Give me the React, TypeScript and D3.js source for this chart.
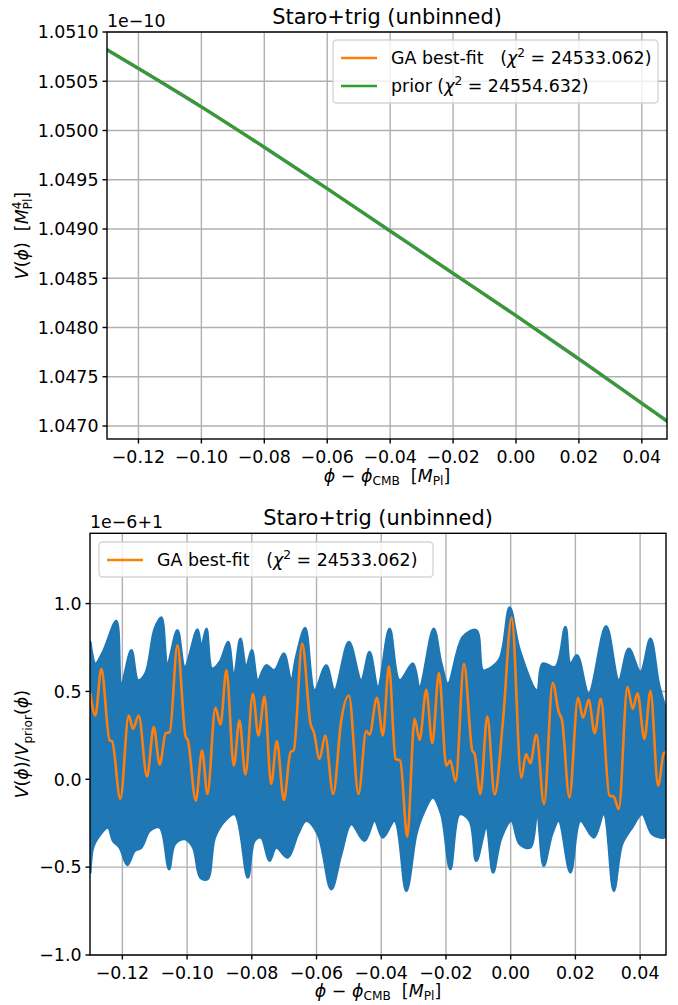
import React from "react";
import * as d3 from "d3";

// ---- data -------------------------------------------------------------

// shared x ticks (phi - phi_CMB, in M_Pl)
const phiTicks = [-0.12, -0.1, -0.08, -0.06, -0.04, -0.02, 0.0, 0.02, 0.04];

// top panel: potential V(phi) in units of 1e-10 M_Pl^4
const potentialTicks = [1.047, 1.0475, 1.048, 1.0485, 1.049, 1.0495, 1.05, 1.0505, 1.051];
const priorPhi = [-0.13, -0.12, -0.1, -0.08, -0.06, -0.04, -0.02, 0.0, 0.02, 0.04, 0.048];
const priorV = [1.05082, 1.05063, 1.05024, 1.04983, 1.04941, 1.04898, 1.04855, 1.04812, 1.04768, 1.04723, 1.04705];

// bottom panel: ratio V/V_prior, shown as (ratio - 1) in units of 1e-6
const ratioTicks = [-1.0, -0.5, 0.0, 0.5, 1.0];

// GA best-fit ratio curve (turning points)
const gaPhi = [
  -0.1299, -0.12835, -0.1265, -0.12392, -0.1232, -0.12062, -0.11804, -0.1167, -0.11495, -0.11237,
  -0.11031, -0.10845, -0.1066, -0.10536, -0.10299, -0.10052, -0.09969, -0.09732, -0.09536, -0.09371,
  -0.09124, -0.08969, -0.08784, -0.08556, -0.08381, -0.08196, -0.07969, -0.07794, -0.07608, -0.07402,
  -0.07227, -0.0701, -0.06804, -0.06701, -0.06443, -0.06186, -0.06082, -0.05907, -0.05732, -0.05485,
  -0.05237, -0.05, -0.04701, -0.04464, -0.04361, -0.04134, -0.03949, -0.03763, -0.03557, -0.03412,
  -0.03196, -0.02969, -0.02814, -0.02608, -0.02423, -0.02216, -0.0199, -0.01866, -0.01701, -0.01443,
  -0.01186, -0.01113, -0.00938, -0.00722, -0.00495, -0.00237, 0.00031, 0.0033, 0.00474, 0.00608,
  0.00794, 0.01031, 0.01299, 0.01485, 0.01588, 0.01814, 0.02082, 0.02237, 0.02412, 0.02598,
  0.02784, 0.03052, 0.03186, 0.0334, 0.03608, 0.03773, 0.03918, 0.04134, 0.0432, 0.04557,
  0.04732, 0.04804,
];
const gaRatio = [
  0.487, 0.363, 0.629, 0.221, 0.217, -0.112, 0.363, 0.287, 0.363, 0.015,
  0.297, 0.084, 0.262, 0.268, 0.762, 0.249, 0.217, -0.122, 0.163, -0.084,
  0.407, 0.312, 0.62, 0.078, 0.335, 0.027, 0.487, 0.249, 0.471, -0.027,
  0.217, -0.118, 0.154, 0.167, 0.772, 0.316, 0.268, 0.116, 0.249, -0.084,
  0.335, 0.477, -0.084, 0.274, 0.255, 0.464, 0.249, 0.643, 0.116, 0.106,
  -0.327, 0.344, 0.224, 0.51, 0.205, 0.605, 0.078, 0.106, -0.011, 0.658,
  0.163, 0.144, -0.084, 0.357, -0.087, 0.335, 0.92, 0.008, 0.144, 0.091,
  0.255, -0.141, 0.548, 0.382, 0.335, -0.103, 0.464, 0.35, 0.452, 0.262,
  0.458, -0.093, -0.099, -0.169, 0.525, 0.401, 0.49, 0.23, 0.502, -0.036,
  0.148, 0.154,
];

// spread of the sampled ratio curves: upper edge
const sampleTopPhi = [
  -0.1299, -0.12835, -0.12598, -0.12186, -0.12031, -0.11722, -0.11515, -0.11289, -0.11, -0.10794,
  -0.10608, -0.10299, -0.10072, -0.0968, -0.09557, -0.09402, -0.09227, -0.0899, -0.08732, -0.08556,
  -0.08351, -0.08175, -0.08, -0.07814, -0.07557, -0.07299, -0.0701, -0.06784, -0.06629, -0.06351,
  -0.06062, -0.05701, -0.05443, -0.05, -0.04619, -0.04361, -0.04103, -0.03742, -0.03433, -0.03021,
  -0.02814, -0.02381, -0.02144, -0.01938, -0.01474, -0.01062, -0.00856, -0.0067, -0.0034, -0.00031,
  0.00278, 0.00814, 0.0099, 0.01381, 0.01691, 0.01845, 0.02052, 0.02412, 0.02948, 0.0334,
  0.03649, 0.0401, 0.0432, 0.04577, 0.04804,
];
const sampleTop = [
  0.781, 0.658, 0.724, 0.901, 0.544, 0.734, 0.563, 0.601, 0.857, 0.92,
  0.658, 0.848, 0.639, 0.852, 0.753, 0.857, 0.629, 0.667, 0.781, 0.582,
  0.8, 0.639, 0.734, 0.563, 0.648, 0.62, 0.715, 0.563, 0.696, 0.861,
  0.506, 0.648, 0.506, 0.781, 0.563, 0.724, 0.525, 0.857, 0.563, 0.658,
  0.525, 0.857, 0.658, 0.544, 0.81, 0.848, 0.62, 0.629, 0.686, 0.977,
  0.734, 0.506, 0.658, 0.639, 0.867, 0.658, 0.705, 0.487, 0.871, 0.563,
  0.743, 0.61, 0.8, 0.544, 0.392,
];

// spread of the sampled ratio curves: lower edge
const sampleBottomPhi = [
  -0.1299, -0.12907, -0.12753, -0.12443, -0.12289, -0.12082, -0.11845, -0.11619, -0.11412, -0.11155,
  -0.10845, -0.10557, -0.10381, -0.10072, -0.09814, -0.09588, -0.09371, -0.09144, -0.08835, -0.08526,
  -0.08124, -0.07918, -0.07711, -0.07454, -0.07247, -0.06887, -0.06577, -0.0632, -0.05959, -0.05546,
  -0.05237, -0.04928, -0.04515, -0.04206, -0.03949, -0.03588, -0.03227, -0.02918, -0.02711, -0.02402,
  -0.02144, -0.01866, -0.01577, -0.01268, -0.01062, -0.00753, -0.00546, -0.00289, 0.00021, 0.00278,
  0.00608, 0.00814, 0.01021, 0.01278, 0.01485, 0.01845, 0.02155, 0.02567, 0.02876, 0.03186,
  0.03443, 0.03753, 0.04062, 0.04371, 0.04732, 0.04804,
];
const sampleBottom = [
  -0.53, -0.388, -0.331, -0.274, -0.35, -0.388, -0.487, -0.407, -0.388, -0.293,
  -0.274, -0.511, -0.369, -0.34, -0.388, -0.559, -0.568, -0.331, -0.236, -0.198,
  -0.559, -0.35, -0.331, -0.464, -0.388, -0.445, -0.312, -0.236, -0.312, -0.625,
  -0.426, -0.255, -0.35, -0.236, -0.331, -0.236, -0.635, -0.312, -0.198, -0.103,
  -0.198, -0.511, -0.198, -0.236, -0.464, -0.274, -0.53, -0.331, -0.236, -0.369,
  -0.388, -0.198, -0.492, -0.312, -0.236, -0.53, -0.236, -0.331, -0.198, -0.635,
  -0.369, -0.274, -0.198, -0.312, -0.331, -0.312,
];

// ---- style ------------------------------------------------------------

const FONT = "'DejaVu Sans', sans-serif";
const FS = 17.4;
const TITLE_FS = 20.9;
const BLUE = "#1f77b4";
const ORANGE = "#ff7f0e";
const GREEN = "#2ca02c";
const GRID = "#b0b0b0";
const LW = 2.6;

const fmtPhi = d3.format(".2f");
const fmtPot = d3.format(".4f");
const fmtRatio = d3.format(".1f");

type Box = { left: number; right: number; top: number; bottom: number };

const topBox: Box = { left: 107, right: 667, top: 32, bottom: 439 };
const botBox: Box = { left: 90, right: 666, top: 533.3, bottom: 955 };

const xTop = d3.scaleLinear().domain([-0.13, 0.048]).range([topBox.left, topBox.right]);
const yTop = d3.scaleLinear().domain([1.046868, 1.051]).range([topBox.bottom, topBox.top]);
const xBot = d3.scaleLinear().domain([-0.13, 0.048]).range([botBox.left, botBox.right]);
const yBot = d3.scaleLinear().domain([-1.0, 1.4]).range([botBox.bottom, botBox.top]);

function Grid({ box, x, y, xt, yt }: { box: Box; x: any; y: any; xt: number[]; yt: number[] }) {
  return (
    <g>
      {xt.map((t) => (
        <line key={"gx" + t} x1={x(t)} x2={x(t)} y1={box.top} y2={box.bottom} stroke={GRID} strokeWidth={1.4} />
      ))}
      {yt.map((t) => (
        <line key={"gy" + t} x1={box.left} x2={box.right} y1={y(t)} y2={y(t)} stroke={GRID} strokeWidth={1.4} />
      ))}
    </g>
  );
}

function Axes({
  box, x, y, xt, yt, yfmt,
}: { box: Box; x: any; y: any; xt: number[]; yt: number[]; yfmt: (v: number) => string }) {
  return (
    <g fontFamily={FONT} fontSize={FS} fill="#000">
      <rect x={box.left} y={box.top} width={box.right - box.left} height={box.bottom - box.top}
        fill="none" stroke="#000" strokeWidth={1.4} />
      {xt.map((t) => (
        <g key={"tx" + t}>
          <line x1={x(t)} x2={x(t)} y1={box.bottom} y2={box.bottom + 4.5} stroke="#000" strokeWidth={1.4} />
          <text x={x(t)} y={box.bottom + 23.5} textAnchor="middle">{fmtPhi(t)}</text>
        </g>
      ))}
      {yt.map((t) => (
        <g key={"ty" + t}>
          <line x1={box.left - 4.5} x2={box.left} y1={y(t)} y2={y(t)} stroke="#000" strokeWidth={1.4} />
          <text x={box.left - 8.5} y={y(t) + 6.3} textAnchor="end">{yfmt(t)}</text>
        </g>
      ))}
    </g>
  );
}

function PhiLabel({ cx, y }: { cx: number; y: number }) {
  return (
    <text x={cx} y={y} textAnchor="middle" fontFamily={FONT} fontSize={FS} style={{ whiteSpace: "pre" }}>
      <tspan fontStyle="italic">ϕ</tspan>
      <tspan> − </tspan>
      <tspan fontStyle="italic">ϕ</tspan>
      <tspan fontSize={12.2} dy={3}>CMB</tspan>
      <tspan dy={-3}>{"  ["}</tspan>
      <tspan fontStyle="italic">M</tspan>
      <tspan fontSize={12.2} dy={3}>Pl</tspan>
      <tspan dy={-3}>]</tspan>
    </text>
  );
}

function Legend({
  x, y, w, h, rows,
}: { x: number; y: number; w: number; h: number; rows: { color: string; label: string; chi: string }[] }) {
  return (
    <g fontFamily={FONT} fontSize={FS}>
      <rect x={x} y={y} width={w} height={h} rx={3.5} fill="#fff" fillOpacity={0.8}
        stroke="#cccccc" strokeOpacity={0.8} strokeWidth={1.4} />
      {rows.map((r, i) => {
        const cy = y + 18 + i * 28;
        return (
          <g key={r.label}>
            <line x1={x + 8} x2={x + 44} y1={cy} y2={cy} stroke={r.color} strokeWidth={LW} />
            <text x={x + 58} y={cy + 6.3} style={{ whiteSpace: "pre" }}>
              <tspan>{r.label + "("}</tspan>
              <tspan fontStyle="italic">χ</tspan>
              <tspan fontSize={12.2} dy={-7}>2</tspan>
              <tspan dy={7}>{" = " + r.chi + ")"}</tspan>
            </text>
          </g>
        );
      })}
    </g>
  );
}

export default function App() {
  // top panel lines
  const potLine = d3
    .line<number>()
    .x((_, i) => xTop(priorPhi[i]))
    .y((v) => yTop(v))
    .curve(d3.curveMonotoneX);
  const potD = potLine(priorV) || "";

  // bottom panel
  const ratioLine = d3
    .line<number>()
    .x((_, i) => xBot(gaPhi[i]))
    .y((v) => yBot(v))
    .curve(d3.curveMonotoneX);
  const gaD = ratioLine(gaRatio) || "";

  const edge = d3
    .line<[number, number]>()
    .x((p) => xBot(p[0]))
    .y((p) => yBot(p[1]))
    .curve(d3.curveCatmullRom.alpha(0.5));
  const upper: [number, number][] = sampleTopPhi.map((p, i) => [p, sampleTop[i]]);
  const lower: [number, number][] = sampleBottomPhi.map((p, i) => [p, sampleBottom[i]]).reverse() as [number, number][];
  const bandD = (edge(upper) || "") + (edge(lower) || "").replace(/^M/, "L") + "Z";

  return (
    <svg width={678} height={1005} viewBox="0 0 678 1005"
      style={{ position: "absolute", left: 0, top: 0, background: "#fff" }}>
      <defs>
        <clipPath id="clipTop">
          <rect x={topBox.left} y={topBox.top} width={topBox.right - topBox.left} height={topBox.bottom - topBox.top} />
        </clipPath>
        <clipPath id="clipBot">
          <rect x={botBox.left} y={botBox.top} width={botBox.right - botBox.left} height={botBox.bottom - botBox.top} />
        </clipPath>
      </defs>
      <rect width={678} height={1005} fill="#fff" />

      {/* ---------- top panel: potential ---------- */}
      <Grid box={topBox} x={xTop} y={yTop} xt={phiTicks} yt={potentialTicks} />
      <g clipPath="url(#clipTop)" fill="none" strokeLinecap="round">
        <path d={potD} stroke={BLUE} strokeWidth={LW + 0.8} />
        <path d={potD} stroke={ORANGE} strokeWidth={LW} />
        <path d={potD} stroke={GREEN} strokeWidth={LW} />
      </g>
      <Axes box={topBox} x={xTop} y={yTop} xt={phiTicks} yt={potentialTicks} yfmt={fmtPot} />
      <text x={topBox.left} y={27} fontFamily={FONT} fontSize={FS}>1e−10</text>
      <text x={(topBox.left + topBox.right) / 2} y={24} textAnchor="middle" fontFamily={FONT} fontSize={TITLE_FS}>
        Staro+trig (unbinned)
      </text>
      <PhiLabel cx={(topBox.left + topBox.right) / 2} y={482} />
      <text transform={`translate(28, ${(topBox.top + topBox.bottom) / 2}) rotate(-90)`} textAnchor="middle"
        fontFamily={FONT} fontSize={FS} style={{ whiteSpace: "pre" }}>
        <tspan fontStyle="italic">V</tspan>
        <tspan>(</tspan>
        <tspan fontStyle="italic">ϕ</tspan>
        <tspan>{")  ["}</tspan>
        <tspan fontStyle="italic">M</tspan>
        <tspan fontSize={12.2} dy={-7}>4</tspan>
        <tspan fontSize={12.2} dx={-7.8} dy={11}>Pl</tspan>
        <tspan dy={-4}>]</tspan>
      </text>
      <Legend x={333} y={40} w={325} h={63} rows={[
        { color: ORANGE, label: "GA best-fit   ", chi: "24533.062" },
        { color: GREEN, label: "prior ", chi: "24554.632" },
      ]} />

      {/* ---------- bottom panel: ratio to prior ---------- */}
      <Grid box={botBox} x={xBot} y={yBot} xt={phiTicks} yt={ratioTicks} />
      <g clipPath="url(#clipBot)" strokeLinejoin="round" strokeLinecap="round">
        <path d={bandD} fill={BLUE} stroke={BLUE} strokeWidth={LW} />
        <path d={gaD} fill="none" stroke={ORANGE} strokeWidth={LW} />
      </g>
      <Axes box={botBox} x={xBot} y={yBot} xt={phiTicks} yt={ratioTicks} yfmt={fmtRatio} />
      <text x={botBox.left} y={528} fontFamily={FONT} fontSize={FS}>1e−6+1</text>
      <text x={(botBox.left + botBox.right) / 2} y={525} textAnchor="middle" fontFamily={FONT} fontSize={TITLE_FS}>
        Staro+trig (unbinned)
      </text>
      <PhiLabel cx={(botBox.left + botBox.right) / 2} y={997} />
      <text transform={`translate(28, ${(botBox.top + botBox.bottom) / 2}) rotate(-90)`} textAnchor="middle"
        fontFamily={FONT} fontSize={FS} style={{ whiteSpace: "pre" }}>
        <tspan fontStyle="italic">V</tspan>
        <tspan>(</tspan>
        <tspan fontStyle="italic">ϕ</tspan>
        <tspan>)/</tspan>
        <tspan fontStyle="italic">V</tspan>
        <tspan fontSize={12.2} dy={3.5}>prior</tspan>
        <tspan dy={-3.5}>(</tspan>
        <tspan fontStyle="italic">ϕ</tspan>
        <tspan>)</tspan>
      </text>
      <Legend x={99} y={542} w={334} h={35} rows={[
        { color: ORANGE, label: "GA best-fit   ", chi: "24533.062" },
      ]} />
    </svg>
  );
}
